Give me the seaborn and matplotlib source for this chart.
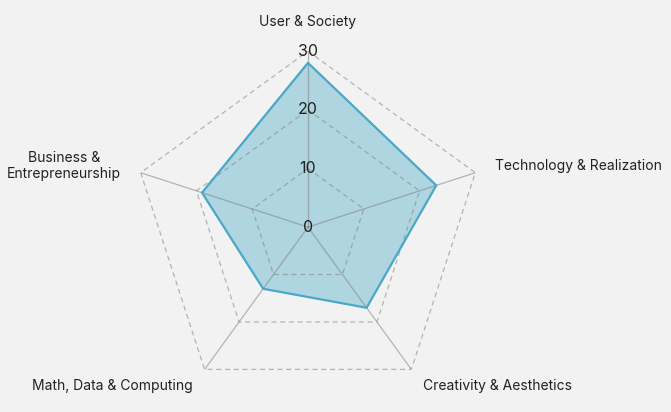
import numpy as np
import pandas as pd
import matplotlib
matplotlib.use("Agg")
import matplotlib.pyplot as plt
import seaborn as sns

categories = ["User & Society", "Technology & Realization", "Creativity & Aesthetics",
              "Math, Data & Computing", "Business &\nEntrepreneurship"]
scores = [28, 23, 17, 13, 19]
ring_levels = [10, 20, 30]
tick_values = [0, 10, 20, 30]
tick_labels = ["0", "10", "20", "30"]

sns.set_theme(style="white")
plt.rcParams["font.family"] = ["Inter", "DejaVu Sans"]

bg = "#f2f2f2"
fig = plt.figure(figsize=(6.71, 4.12), dpi=100, facecolor=bg)
ax = fig.add_axes([0.1967, 0.0218, 0.5246, 0.854], projection="polar")
ax.set_facecolor(bg)
ax.set_theta_zero_location("N")
ax.set_theta_direction(-1)

n = len(categories)
angles = np.linspace(0, 2 * np.pi, n, endpoint=False)
# close the loop at 2*pi so seaborn does not merge it with the first angle
closed_angles = np.append(angles, 2 * np.pi)

df = pd.DataFrame({"angle": closed_angles, "score": scores + [scores[0]]})
ax.fill(df["angle"], df["score"], color="#afd5e0", zorder=1)

# dashed pentagon grid, drawn over the fill like the reference
for lvl in ring_levels:
    ax.plot(closed_angles, [lvl] * (n + 1), color="#808080", alpha=0.55, lw=0.9,
            ls=(0, (4, 3)), zorder=2)

# spokes
for a in angles:
    ax.plot([a, a], [0, ring_levels[-1]], color="#808080", alpha=0.55, lw=0.9, zorder=2)

sns.lineplot(data=df, x="angle", y="score", sort=False, estimator=None, ax=ax,
             color="#4aa8c8", lw=1.6, zorder=3)

ax.set_ylim(0, 30)
ax.grid(False)
ax.spines["polar"].set_visible(False)
ax.set_xticks([])
ax.set_yticks([])
ax.set_xlabel("")
ax.set_ylabel("")

for v, t in zip(tick_values, tick_labels):
    ax.text(0, v, t, ha="center", va="center", fontsize=11.5, color="#222222", zorder=4)

label_r = [35, 33.5, 33.5, 33.5, 33.5]
aligns = ["center", "left", "left", "right", "right"]
for a, r, lab, ha in zip(angles, label_r, categories, aligns):
    ax.text(a, r, lab, ha=ha, va="center", fontsize=10, color="#222222",
            multialignment="center")

fig.savefig("out.png", dpi=100, facecolor=bg)
